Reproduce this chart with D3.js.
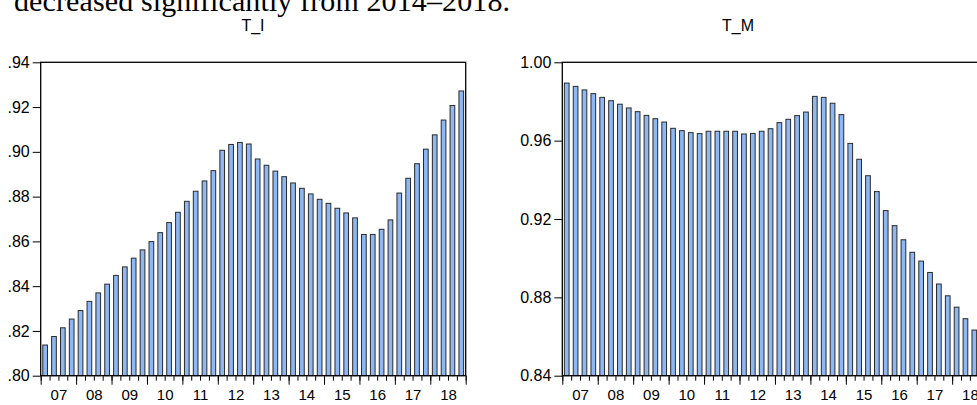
<!DOCTYPE html>
<html>
<head>
<meta charset="utf-8">
<script src="https://cdn.jsdelivr.net/npm/d3@7"></script>
<style>
  html, body { margin: 0; padding: 0; background: #fff; }
  svg { display: block; overflow: hidden; }
  .tick text { font-family: Arial, "Liberation Sans", sans-serif; }
</style>
</head>
<body>
<svg id="chart" width="977" height="405"></svg>
<script>
// quarterly data 2007Q1 - 2018Q4
var years = [2007, 2008, 2009, 2010, 2011, 2012, 2013, 2014, 2015, 2016, 2017, 2018];
var quarters = [];
years.forEach(function(y) { for (var q = 1; q <= 4; q++) quarters.push(y + "Q" + q); });

var t_i = [
  .8137, .8175, .8214, .8253,
  .8291, .8332, .8370, .8409,
  .8448, .8486, .8525, .8562,
  .8599, .8639, .8684, .8730,
  .8779, .8824, .8870, .8916,
  .9007, .9033, .9042, .9035,
  .8968, .8940, .8914, .8889,
  .8861, .8837, .8812, .8788,
  .8770, .8748, .8727, .8705,
  .8631, .8631, .8654, .8696,
  .8816, .8882, .8947, .9012,
  .9076, .9142, .9207, .9272
];

var t_m = [
  .9894, .9877, .9859, .9840,
  .9821, .9804, .9786, .9767,
  .9748, .9729, .9712, .9695,
  .9663, .9651, .9641, .9636,
  .9648, .9648, .9648, .9648,
  .9634, .9637, .9648, .9661,
  .9692, .9709, .9728, .9746,
  .9826, .9821, .9791, .9733,
  .9586, .9505, .9421, .9340,
  .9243, .9166, .9094, .9030,
  .8985, .8927, .8868, .8808,
  .8750, .8691, .8633, .8575
];

var ticks_i = [.80, .82, .84, .86, .88, .90, .92, .94];
var ticks_m = [.84, .88, .92, .96, 1.00];

var svg = d3.select("#chart");

// cut-off line of body text above the charts (only its lower part shows)
svg.append("text")
    .attr("x", 14)
    .attr("y", 11)
    .attr("font-family", "'Liberation Serif', 'DejaVu Serif', serif")
    .attr("font-size", 30)
    .attr("textLength", 496)
    .attr("fill", "#000")
    .text("decreased significantly from 2014\u20132018.");

function panel(opts) {
    var g = svg.append("g");
    var left = opts.left, right = opts.right, top = 62.3, bottom = 375.7;

    var x = d3.scaleBand()
        .domain(quarters)
        .range([left, right])
        .paddingInner(0.47)
        .paddingOuter(0.235);

    var xYear = d3.scaleLinear()
        .domain([2007, 2019])
        .range([left, right]);

    var y = d3.scaleLinear()
        .domain(opts.domain)
        .range([bottom, top]);

    // bars
    g.append("g")
        .selectAll("rect")
        .data(opts.values)
        .enter().append("rect")
            .attr("x", function(d, i) { return x(quarters[i]); })
            .attr("y", function(d) { return y(d); })
            .attr("width", x.bandwidth())
            .attr("height", function(d) { return bottom - y(d); })
            .attr("fill", "#8db8f4")
            .attr("stroke", "#2a2a2a")
            .attr("stroke-width", 1);

    // frame
    g.append("rect")
        .attr("x", left)
        .attr("y", top)
        .attr("width", right - left)
        .attr("height", bottom - top)
        .attr("fill", "none")
        .attr("stroke", "#000")
        .attr("stroke-width", 1.3);

    // y axis
    var yAxis = g.append("g")
        .attr("transform", "translate(" + left + ",0)")
        .call(d3.axisLeft(y).tickValues(opts.ticks).tickSize(8).tickPadding(3).tickFormat(opts.fmt));
    yAxis.select(".domain").remove();
    yAxis.selectAll("text").attr("font-size", 16).attr("fill", "#000");

    // minor quarter ticks
    var minor = [];
    for (var v = 2007; v <= 2019.001; v += 0.25) minor.push(v);
    var xMinor = g.append("g")
        .attr("transform", "translate(0," + bottom + ")")
        .call(d3.axisBottom(xYear).tickValues(minor).tickSize(5).tickFormat(""));
    xMinor.select(".domain").remove();

    // major year ticks
    var xMajor = g.append("g")
        .attr("transform", "translate(0," + bottom + ")")
        .call(d3.axisBottom(xYear).tickValues(d3.range(2007, 2020)).tickSize(9).tickFormat(""));
    xMajor.select(".domain").remove();

    // year labels centred on each year
    var xLab = g.append("g")
        .attr("transform", "translate(0," + bottom + ")")
        .call(d3.axisBottom(xYear)
            .tickValues(years.map(function(d) { return d + 0.5; }))
            .tickSize(0)
            .tickPadding(14)
            .tickFormat(function(d) { return String(Math.floor(d)).slice(2); }));
    xLab.select(".domain").remove();
    xLab.selectAll("text").attr("font-size", 15).attr("fill", "#000");

    svg.append("text")
        .attr("x", opts.titleX)
        .attr("y", 31)
        .attr("text-anchor", "middle")
        .attr("font-family", "Arial, 'Liberation Sans', sans-serif")
        .attr("font-size", 16)
        .text(opts.title);
}

panel({
    left: 40.7, right: 465.7,
    domain: [.80, .94], ticks: ticks_i,
    fmt: function(d) { return d3.format(".2f")(d).replace(/^0/, ""); },
    values: t_i, title: "T_I", titleX: 253
});

panel({
    left: 562.3, right: 987.6,
    domain: [.84, 1.00], ticks: ticks_m,
    fmt: d3.format(".2f"),
    values: t_m, title: "T_M", titleX: 738
});
</script>
</body>
</html>
